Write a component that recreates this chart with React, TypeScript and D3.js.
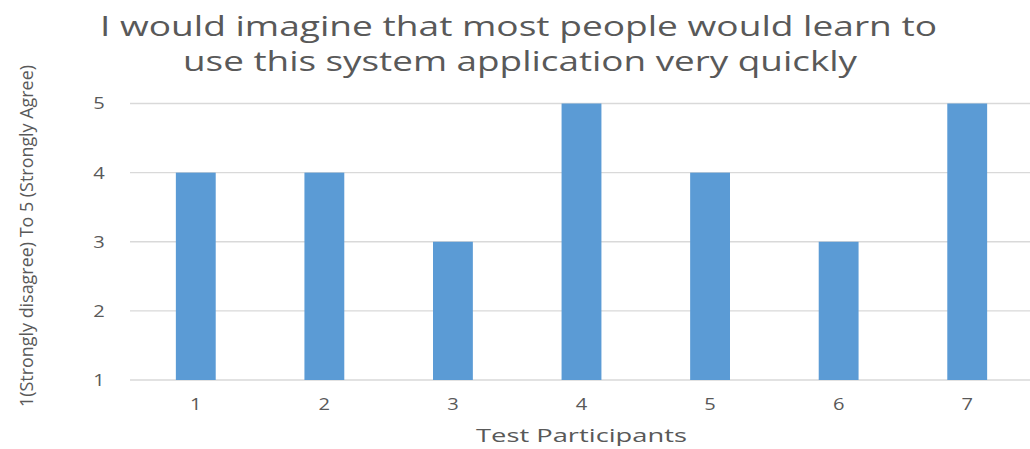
import React from "react";
import * as d3 from "d3";

const participants = ["1", "2", "3", "4", "5", "6", "7"];
const ratings = [4, 4, 3, 5, 4, 3, 5];
const yTicks = [1, 2, 3, 4, 5];
const titleLines = [
  "I would imagine that most people would learn to",
  "use this system application very quickly",
];
const xTitle = "Test Participants";
const yTitle = "1(Strongly disagree) To 5 (Strongly Agree)";

const W = 1030;
const H = 449;
const FONT = "'Open Sans', 'Noto Sans', sans-serif";
const TEXT = "#595959";

export default function App() {
  const x = d3.scaleBand<string>().domain(participants).range([131.5, 1031.5]).paddingInner(0.69).paddingOuter(0.345);
  const y = d3.scaleLinear().domain([1, 5]).range([380, 103.5]);

  return (
    <svg width={W} height={H} style={{ position: "absolute", left: 0, top: 0, background: "#fff" }}>
      <g fontFamily={FONT} fill={TEXT}>
        <text x={518.5} y={36} textAnchor="middle" fontSize={27} textLength={837} lengthAdjust="spacingAndGlyphs">
          {titleLines[0]}
        </text>
        <text x={520} y={71} textAnchor="middle" fontSize={27} textLength={674} lengthAdjust="spacingAndGlyphs">
          {titleLines[1]}
        </text>
      </g>
      {yTicks.map((t) => (
        <g key={t}>
          <line x1={130} x2={1031} y1={y(t)} y2={y(t)} stroke="#d9d9d9" strokeWidth={1.3} />
          <text
            x={99}
            y={y(t)}
            dy="0.36em"
            textAnchor="middle"
            fontSize={16.5}
            fontFamily={FONT}
            fill={TEXT}
            textLength={11.5}
            lengthAdjust="spacingAndGlyphs"
          >
            {t}
          </text>
        </g>
      ))}
      {participants.map((p, i) => (
        <g key={p}>
          <rect x={x(p)} y={y(ratings[i])} width={x.bandwidth()} height={y(1) - y(ratings[i])} fill="#5B9BD5" />
          <text
            x={(x(p) ?? 0) + x.bandwidth() / 2}
            y={404}
            dy="0.36em"
            textAnchor="middle"
            fontSize={16}
            fontFamily={FONT}
            fill={TEXT}
            textLength={11.5}
            lengthAdjust="spacingAndGlyphs"
          >
            {p}
          </text>
        </g>
      ))}
      <text x={581.5} y={442} textAnchor="middle" fontSize={19} fontFamily={FONT} fill={TEXT} textLength={211} lengthAdjust="spacingAndGlyphs">
        {xTitle}
      </text>
      <text
        transform="translate(33,236) rotate(-90)"
        textAnchor="middle"
        fontSize={19}
        fontFamily={FONT}
        fill={TEXT}
        textLength={342}
        lengthAdjust="spacingAndGlyphs"
      >
        {yTitle}
      </text>
    </svg>
  );
}
